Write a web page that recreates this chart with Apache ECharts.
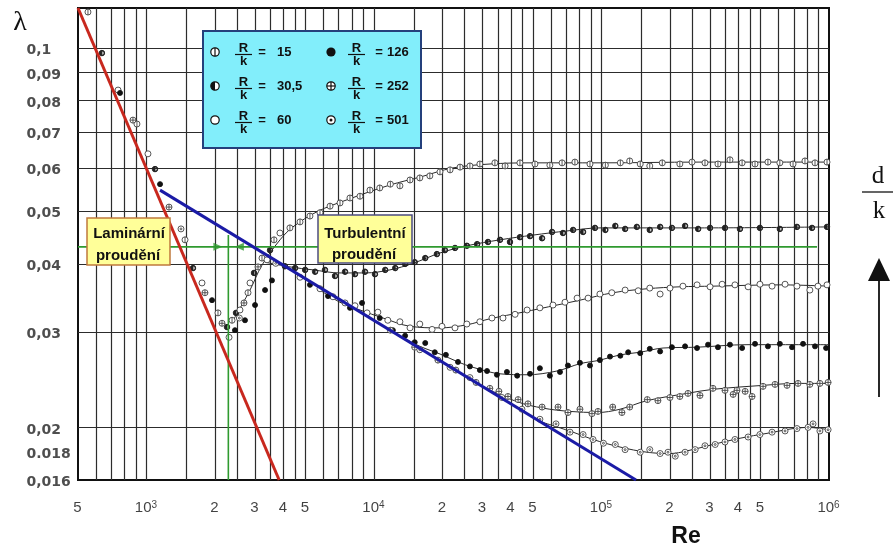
<!DOCTYPE html>
<html>
<head>
<meta charset="utf-8">
<script src="https://cdn.jsdelivr.net/npm/echarts@6/dist/echarts.min.js"></script>
<style>
  html, body { margin: 0; padding: 0; background: #fff; }
  #chart { width: 893px; height: 550px; }
</style>
</head>
<body>
<div id="chart"></div>
<script>
// ---- axis ticks and grid ----
const xTicks = [500, 1000, 2000, 3000, 4000, 5000, 10000, 20000, 30000, 40000, 50000,
                100000, 200000, 300000, 400000, 500000, 1000000];
const xTickText = ['5', '10^3', '2', '3', '4', '5', '10^4', '2', '3', '4', '5',
                   '10^5', '2', '3', '4', '5', '10^6'];
const yTicks = [0.1, 0.09, 0.08, 0.07, 0.06, 0.05, 0.04, 0.03, 0.02, 0.018, 0.016];
const yTickText = ['0,1', '0,09', '0,08', '0,07', '0,06', '0,05', '0,04', '0,03', '0,02', '0.018', '0,016'];

const reGridLines = [600, 700, 800, 900,
  1000, 1500, 2000, 2500, 3000, 3500, 4000, 4500, 5000, 6000, 7000, 8000, 9000,
  10000, 15000, 20000, 25000, 30000, 35000, 40000, 45000, 50000, 60000, 70000, 80000, 90000,
  100000, 150000, 200000, 250000, 300000, 350000, 400000, 450000, 500000, 600000, 700000, 800000, 900000];
const lambdaGridLines = [0.018, 0.02, 0.025, 0.03, 0.035, 0.04, 0.045, 0.05, 0.06, 0.07, 0.08, 0.09, 0.1];

// ---- reference lines ----
const laminarLine = [[500, 0.1184], [3830, 0.016]];
const blasiusLine = [[1147, 0.0547], [141800, 0.016]];
const greenHorizontal = [[500, 0.0430], [886000, 0.0430]];
const greenVertical = [[2290, 0.016], [2290, 0.0452]];
const greenArrowRight = [[2060, 0.0430]];
const greenArrowLeft = [[2560, 0.0430]];

// ---- measured points (Re, lambda) per relative roughness R/k ----
const pts15 = [[553,0.1164],[908,0.0724],[1477,0.0443],[2062,0.0325],[2377,0.0315],[2794,0.0354],[3219,0.0410],[3635,0.0443],
  [4270,0.0466],[4730,0.0478],[5230,0.0490],[5790,0.0497],[6410,0.0511],[7090,0.0518],[7840,0.0529],[8680,0.0533],[9600,0.0547],
  [10600,0.0552],[11800,0.0561],[13000,0.0557],[14400,0.0571],[15900,0.0576],[17600,0.0581],[19500,0.0591],[21600,0.0596],
  [23900,0.0603],[26400,0.0606],[29200,0.0611],[34000,0.0614],[37700,0.0606],[43800,0.0614],[51000,0.0611],[59300,0.0608],
  [67100,0.0614],[76400,0.0616],[89000,0.0611],[104000,0.0608],[121000,0.0614],[133000,0.0619],[148000,0.0611],[163000,0.0606],
  [185000,0.0614],[221000,0.0611],[250000,0.0616],[285000,0.0614],[325000,0.0611],[367000,0.0622],[415000,0.0614],
  [473000,0.0611],[539000,0.0616],[608000,0.0614],[695000,0.0611],[784000,0.0619],[868000,0.0614],[980000,0.0616]];
const pts30 = [[637,0.0978],[1090,0.0598],[1601,0.0393],[2259,0.0306],[2474,0.0325],[2969,0.0385],[3491,0.0424],
  [4060,0.0396],[4500,0.0393],[4980,0.0390],[5510,0.0387],[6090,0.0390],[6740,0.0380],[7460,0.0387],[8250,0.0383],
  [9130,0.0387],[10100,0.0383],[11200,0.0390],[12400,0.0393],[13700,0.0400],[15100,0.0403],[16800,0.0410],[18900,0.0417],
  [20500,0.0424],[22700,0.0428],[25600,0.0432],[28400,0.0435],[31700,0.0439],[35800,0.0443],[39600,0.0439],[43800,0.0448],
  [48500,0.0450],[54800,0.0446],[60600,0.0458],[67700,0.0456],[75000,0.0462],[83000,0.0458],[93600,0.0466],[104000,0.0462],
  [115000,0.0470],[127000,0.0464],[143000,0.0468],[163000,0.0462],[181000,0.0468],[204000,0.0466],[233000,0.0470],
  [266000,0.0464],[300000,0.0466],[349000,0.0466],[406000,0.0464],[497000,0.0466],[608000,0.0464],[723000,0.0468],
  [842000,0.0466],[980000,0.0468]];
const pts60 = [[750,0.0836],[1015,0.0638],[1754,0.0369],[2306,0.0293],[2576,0.0329],[2851,0.0369],[3386,0.0407],[3860,0.0456],
  [4730,0.0378],[5790,0.0360],[6600,0.0348],[7460,0.0339],[8250,0.0335],[9320,0.0325],[10400,0.0326],[11500,0.0315],
  [13000,0.0313],[14400,0.0305],[15900,0.0310],[18000,0.0303],[19900,0.0307],[22700,0.0305],[25600,0.0310],[29200,0.0313],
  [33000,0.0318],[36900,0.0318],[41700,0.0323],[47100,0.0329],[53600,0.0332],[61200,0.0336],[69100,0.0340],[78100,0.0346],
  [87300,0.0346],[98400,0.0352],[111000,0.0354],[127000,0.0358],[145000,0.0357],[163000,0.0361],[181000,0.0352],
  [200000,0.0361],[228000,0.0364],[263000,0.0366],[300000,0.0363],[339000,0.0367],[386000,0.0366],[441000,0.0363],
  [497000,0.0367],[562000,0.0364],[641000,0.0367],[723000,0.0364],[824000,0.0358],[894000,0.0364],[980000,0.0366]];
const pts126 = [[765,0.0826],[1147,0.0561],[1941,0.0343],[2449,0.0302],[2710,0.0315],[3000,0.0336],[3320,0.0358],[3560,0.0373],
  [5230,0.0366],[6280,0.0349],[7840,0.0332],[8860,0.0339],[10600,0.0318],[12100,0.0302],[13700,0.0295],[15100,0.0287],
  [16800,0.0286],[18500,0.0275],[20700,0.0272],[23400,0.0264],[26400,0.0259],[29200,0.0255],[31400,0.0254],[34700,0.0250],
  [38400,0.0253],[42600,0.0249],[48500,0.0251],[53600,0.0257],[59300,0.0249],[65700,0.0253],[71200,0.0260],[80400,0.0263],
  [89000,0.0260],[98400,0.0266],[109000,0.0270],[121000,0.0271],[131000,0.0275],[148000,0.0274],[163000,0.0279],
  [181000,0.0276],[204000,0.0281],[233000,0.0282],[263000,0.0280],[294000,0.0284],[325000,0.0281],[367000,0.0284],
  [415000,0.0280],[473000,0.0285],[539000,0.0282],[608000,0.0285],[688000,0.0281],[769000,0.0285],[868000,0.0282],[971000,0.0280]];
const pts252 = [[872,0.0736],[1256,0.0509],[1807,0.0354],[2148,0.0311],[2683,0.0339],[3092,0.0395],
  [11800,0.0302],[15100,0.0281],[19100,0.0266],[22900,0.0255],[28100,0.0242],[32300,0.0236],[35400,0.0233],[38800,0.0228],
  [43000,0.0225],[47500,0.0221],[54800,0.0218],[64400,0.0218],[71200,0.0213],[80400,0.0216],[90800,0.0212],[96500,0.0214],
  [112000,0.0218],[123000,0.0213],[133000,0.0218],[159000,0.0225],[177000,0.0224],[200000,0.0227],[221000,0.0228],
  [240000,0.0231],[271000,0.0229],[309000,0.0236],[349000,0.0234],[379000,0.0230],[394000,0.0234],[428000,0.0233],
  [459000,0.0228],[513000,0.0238],[579000,0.0240],[654000,0.0239],[731000,0.0241],[824000,0.0240],[912000,0.0241],[991000,0.0242]];
const pts501 = [[1418,0.0464],[2560,0.0318],[3700,0.0401],
  [15900,0.0278],[21600,0.0258],[26400,0.0247],[36500,0.0227],[44700,0.0216],[53600,0.0207],[63100,0.0203],[72700,0.0196],
  [83000,0.0194],[91800,0.0190],[102000,0.0187],[115000,0.0186],[127000,0.0182],[148000,0.0180],[163000,0.0182],
  [181000,0.0179],[196000,0.0180],[211000,0.0177],[233000,0.0180],[258000,0.0182],[285000,0.0185],[316000,0.0186],
  [349000,0.0188],[386000,0.0190],[441000,0.0192],[497000,0.0194],[562000,0.0196],[641000,0.0197],[723000,0.0199],
  [809000,0.0200],[851000,0.0203],[912000,0.0197],[991000,0.0198]];

// ---- faired curves through the measurements ----
const fit15 = [[2385,0.0313],[2851,0.0358],[3219,0.0398],[3863,0.0443],[4406,0.0468],[5616,0.0499],[7612,0.0525],[11760,0.0559],
  [15929,0.0578],[22250,0.0601],[32357,0.0611],[48500,0.0614],[98500,0.0614],[271000,0.0616],[1000000,0.0616]];
const fit30 = [[3319,0.0403],[4274,0.0395],[5396,0.0390],[7089,0.0385],[9130,0.0385],[11760,0.0390],[14846,0.0401],[19504,0.0419],
  [25633,0.0432],[35800,0.0443],[50000,0.0452],[70540,0.0460],[98500,0.0466],[271000,0.0466],[1000000,0.0468]];
const fit60 = [[5790,0.0358],[7089,0.0340],[8679,0.0329],[10957,0.0318],[14400,0.0307],[19504,0.0305],[25633,0.0309],[32357,0.0317],
  [45186,0.0326],[63740,0.0336],[80440,0.0343],[112300,0.0354],[158500,0.0360],[221400,0.0363],[309000,0.0364],[609000,0.0366],[1000000,0.0364]];
const fit126 = [[13008,0.0295],[15929,0.0282],[19504,0.0273],[23400,0.0264],[27250,0.0258],[35800,0.0251],[47050,0.0250],[63740,0.0254],
  [80440,0.0262],[98500,0.0266],[120600,0.0272],[147600,0.0275],[186400,0.0280],[263000,0.0281],[436000,0.0284],[1000000,0.0284]];
const fit252 = [[29227,0.0239],[42550,0.0223],[55350,0.0217],[72700,0.0214],[95560,0.0213],[120600,0.0216],[158500,0.0224],
  [237600,0.0231],[309000,0.0235],[512800,0.0239],[723000,0.0241],[1000000,0.0241]];
const fit501 = [[53700,0.0205],[74950,0.0196],[91750,0.0190],[120600,0.0184],[158500,0.0180],[200100,0.0179],[237600,0.0181],
  [309000,0.0186],[406400,0.0191],[534000,0.0195],[800500,0.0200],[1000000,0.0198]];

// ---- marker shapes ----
const SYM = {
  phi:  'path://M0,-5A5,5 0 1,1 0,5A5,5 0 1,1 0,-5ZM0,-5L0,5',
  half: 'path://M0,-5A5,5 0 0,0 0,5ZM0,-5A5,5 0 0,1 0,5L0,4A4,4 0 0,0 0,-4Z',
  open: 'circle',
  full: 'circle',
  cross:'path://M-5,0A5,5 0 1,1 5,0A5,5 0 1,1 -5,0ZM-5,0L5,0M0,-5L0,5',
  dot:  'path://M-5,0A5,5 0 1,1 5,0A5,5 0 1,1 -5,0ZM-1.6,0A1.6,1.6 0 1,1 1.6,0A1.6,1.6 0 1,1 -1.6,0Z'
};

const curves = [
  { name: 'R/k = 15',   pts: pts15,  fit: fit15,  kind: 'phi',   fill: '#fff', stroke: '#444', size: 6 },
  { name: 'R/k = 30,5', pts: pts30,  fit: fit30,  kind: 'half',  fill: '#222', stroke: '#222', size: 5.5 },
  { name: 'R/k = 60',   pts: pts60,  fit: fit60,  kind: 'open',  fill: '#fff', stroke: '#444', size: 6 },
  { name: 'R/k = 126',  pts: pts126, fit: fit126, kind: 'full',  fill: '#111', stroke: '#111', size: 5 },
  { name: 'R/k = 252',  pts: pts252, fit: fit252, kind: 'cross', fill: '#fff', stroke: '#444', size: 6 },
  { name: 'R/k = 501',  pts: pts501, fit: fit501, kind: 'dot',   fill: '#fff', stroke: '#444', size: 6 }
];

const SANS = '"Liberation Sans", Arial, sans-serif';
const SERIF = '"Liberation Serif", "Times New Roman", serif';

function tickText(s) {
  const p = s.split('^');
  return p.length === 2 ? '{b|' + p[0] + '}{e|' + p[1] + '}' : s;
}

const series = [];

// grid lines
series.push({
  type: 'line', name: 'grid', data: [[500, 0.016]], symbol: 'none',
  lineStyle: { width: 0 }, silent: true, z: 1,
  markLine: {
    z: 1, silent: true, symbol: ['none', 'none'], animation: false,
    label: { show: false }, emphasis: { disabled: true },
    lineStyle: { color: '#2c2c2c', width: 1.2, type: 'solid' },
    data: reGridLines.map(v => ({ xAxis: v })).concat(lambdaGridLines.map(v => ({ yAxis: v })))
  }
});

// faired curves and measured points
curves.forEach(c => {
  series.push({
    type: 'line', name: c.name + ' fit', data: c.fit, smooth: 0.35, symbol: 'none', silent: true, z: 3,
    lineStyle: { color: '#2a2a2a', width: 1 }
  });
  series.push({
    type: 'scatter', name: c.name, data: c.pts, symbol: SYM[c.kind], symbolSize: c.size, silent: true, z: 4,
    itemStyle: { color: c.fill, borderColor: c.stroke, borderWidth: 0.9, opacity: 1 }
  });
});

// laminar and Blasius lines
series.push({ type: 'line', name: 'laminar', data: laminarLine, symbol: 'none', silent: true, z: 6,
  lineStyle: { color: '#c8281e', width: 3 } });
series.push({ type: 'line', name: 'blasius', data: blasiusLine, symbol: 'none', silent: true, z: 6,
  lineStyle: { color: '#1b1ba6', width: 3 } });

// critical Reynolds number marks
series.push({ type: 'line', name: 'critical-h', data: greenHorizontal, symbol: 'none', silent: true, z: 5,
  lineStyle: { color: '#2f9a2f', width: 1.6 } });
series.push({ type: 'line', name: 'critical-v', data: greenVertical, symbol: 'none', silent: true, z: 5,
  lineStyle: { color: '#2f9a2f', width: 1.6 } });
series.push({ type: 'scatter', name: 'arrow-r', data: greenArrowRight, symbol: 'triangle', symbolSize: [8, 9],
  symbolRotate: -90, silent: true, z: 5, itemStyle: { color: '#2f9a2f' } });
series.push({ type: 'scatter', name: 'arrow-l', data: greenArrowLeft, symbol: 'triangle', symbolSize: [8, 9],
  symbolRotate: 90, silent: true, z: 5, itemStyle: { color: '#2f9a2f' } });

// tick labels placed through the axes
series.push({
  type: 'scatter', name: 'x-labels', clip: false, silent: true, z: 7,
  data: xTicks.map((v, i) => ({ value: [v, 0.016], name: xTickText[i] })),
  symbolSize: 1, itemStyle: { color: 'rgba(0,0,0,0)' },
  label: {
    show: true, position: [0, 28], align: 'center', verticalAlign: 'middle',
    formatter: p => tickText(p.name), fontSize: 15, color: '#111', fontFamily: SANS,
    rich: {
      b: { fontSize: 15, color: '#111', fontFamily: SANS },
      e: { fontSize: 10, color: '#111', fontFamily: SANS, verticalAlign: 'top' }
    }
  }
});
series.push({
  type: 'scatter', name: 'y-labels', clip: false, silent: true, z: 7,
  data: yTicks.map((v, i) => ({ value: [500, v], name: yTickText[i] })),
  symbolSize: 1, itemStyle: { color: 'rgba(0,0,0,0)' },
  label: {
    show: true, position: [-51, 3], align: 'left', verticalAlign: 'middle',
    formatter: p => p.name, fontSize: 14, fontWeight: 'bold', color: '#222', fontFamily: '"DejaVu Sans", sans-serif'
  }
});

// legend panel
const legendItems = [
  { kind: 'phi', value: '15', col: 0, row: 0 },
  { kind: 'half', value: '30,5', col: 0, row: 1 },
  { kind: 'open', value: '60', col: 0, row: 2 },
  { kind: 'full', value: '126', col: 1, row: 0 },
  { kind: 'cross', value: '252', col: 1, row: 1 },
  { kind: 'dot', value: '501', col: 1, row: 2 }
];
const colSym = [215, 331], colBar = [243.5, 356.5], colEq = [262, 379], colVal = [277, 387];
const rowY = [52, 86, 120];

function markerShapes(kind, cx, cy) {
  const r = 4.2, st = { fill: '#fff', stroke: '#111', lineWidth: 1.2 };
  const out = [];
  if (kind === 'full') {
    out.push({ type: 'circle', shape: { cx, cy, r: r + 0.4 }, style: { fill: '#111' }, z: 102 });
    return out;
  }
  out.push({ type: 'circle', shape: { cx, cy, r }, style: st, z: 102 });
  if (kind === 'phi') out.push({ type: 'line', shape: { x1: cx, y1: cy - r, x2: cx, y2: cy + r }, style: { stroke: '#111', lineWidth: 1.2 }, z: 103 });
  if (kind === 'half') out.push({ type: 'sector', shape: { cx, cy, r, r0: 0, startAngle: Math.PI / 2, endAngle: Math.PI * 1.5 }, style: { fill: '#111' }, z: 103 });
  if (kind === 'cross') {
    out.push({ type: 'line', shape: { x1: cx, y1: cy - r, x2: cx, y2: cy + r }, style: { stroke: '#111', lineWidth: 1.2 }, z: 103 });
    out.push({ type: 'line', shape: { x1: cx - r, y1: cy, x2: cx + r, y2: cy }, style: { stroke: '#111', lineWidth: 1.2 }, z: 103 });
  }
  if (kind === 'dot') out.push({ type: 'circle', shape: { cx, cy, r: 1.5 }, style: { fill: '#111' }, z: 103 });
  return out;
}

function txt(x, y, text, opts) {
  return Object.assign({ type: 'text', x, y, z: 104,
    style: Object.assign({ text, fill: '#111', fontFamily: SANS, fontSize: 13, fontWeight: 'bold', align: 'center', verticalAlign: 'middle' }, opts || {}) });
}

const graphics = [];
graphics.push({ type: 'rect', shape: { x: 203, y: 31, width: 218, height: 117 }, style: { fill: '#82eefb', stroke: '#24407c', lineWidth: 2 }, z: 100 });
legendItems.forEach(it => {
  const y = rowY[it.row];
  markerShapes(it.kind, colSym[it.col], y).forEach(g => graphics.push(g));
  graphics.push(txt(colBar[it.col], y - 4, 'R'));
  graphics.push({ type: 'line', shape: { x1: colBar[it.col] - 8.5, y1: y + 2.5, x2: colBar[it.col] + 8.5, y2: y + 2.5 }, style: { stroke: '#111', lineWidth: 1.2 }, z: 104 });
  graphics.push(txt(colBar[it.col], y + 9, 'k'));
  graphics.push(txt(colEq[it.col], y, '='));
  graphics.push(txt(colVal[it.col], y, it.value, { align: 'left' }));
});

// flow regime boxes
graphics.push({ type: 'rect', shape: { x: 87, y: 218, width: 83, height: 47 }, style: { fill: '#ffff99', stroke: '#c07a3c', lineWidth: 1.5 }, z: 100 });
graphics.push(txt(129, 234, 'Laminární', { fontSize: 15 }));
graphics.push(txt(128, 256, 'proudění', { fontSize: 15 }));
graphics.push({ type: 'rect', shape: { x: 318, y: 215, width: 94, height: 48 }, style: { fill: '#ffff99', stroke: '#4c4c80', lineWidth: 1.5 }, z: 100 });
graphics.push(txt(365, 234, 'Turbulentní', { fontSize: 15 }));
graphics.push(txt(364, 255, 'proudění', { fontSize: 15 }));

// axis titles
graphics.push(txt(20, 23, 'λ', { fontFamily: SERIF, fontSize: 28, fontWeight: 'normal' }));
graphics.push(txt(686, 537, 'Re', { fontSize: 23 }));
graphics.push(txt(878, 176, 'd', { fontFamily: SERIF, fontSize: 25, fontWeight: 'normal' }));
graphics.push({ type: 'line', shape: { x1: 862, y1: 192, x2: 893, y2: 192 }, style: { stroke: '#111', lineWidth: 1.3 }, z: 104 });
graphics.push(txt(879, 211, 'k', { fontFamily: SERIF, fontSize: 25, fontWeight: 'normal' }));
graphics.push({ type: 'line', shape: { x1: 879, y1: 397, x2: 879, y2: 276 }, style: { stroke: '#111', lineWidth: 1.8 }, z: 104 });
graphics.push({ type: 'polygon', shape: { points: [[868, 281], [890, 281], [879, 258]] }, style: { fill: '#111' }, z: 104 });

const chart = echarts.init(document.getElementById('chart'), null, { renderer: 'canvas' });
chart.setOption({
  backgroundColor: '#fff',
  animation: false,
  grid: { left: 78, top: 8, width: 751, height: 472, show: true, borderColor: '#111', borderWidth: 2, backgroundColor: 'transparent' },
  xAxis: {
    type: 'log', logBase: 10, min: 500, max: 1000000,
    axisLine: { show: false }, axisTick: { show: false }, axisLabel: { show: false }, splitLine: { show: false }
  },
  yAxis: {
    type: 'log', logBase: 10, min: 0.016, max: 0.1184,
    axisLine: { show: false }, axisTick: { show: false }, axisLabel: { show: false }, splitLine: { show: false }
  },
  series: series,
  graphic: graphics
});
</script>
</body>
</html>
